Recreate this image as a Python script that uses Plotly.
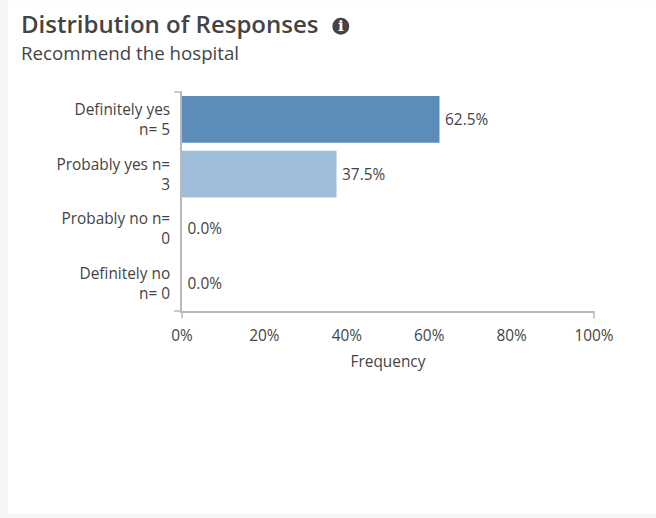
import plotly.graph_objects as go

categories = ["Definitely yes<br>n= 5", "Probably yes n=<br>3", "Probably no n=<br>0", "Definitely no<br>n= 0"]
frequency = [62.5, 37.5, 0.0, 0.0]
bar_labels = ["62.5%", "37.5%", "0.0%", "0.0%"]
bar_colors = ["#5b8db8", "#9dbdd9", "#c6d9ea", "#e0e9f2"]
x_ticks = [0, 20, 40, 60, 80, 100]
x_tick_labels = ["0%", "20%", "40%", "60%", "80%", "100%"]

W, H = 656, 518
L, R, T, B = 181.5, 594, 92, 311.5
TEXT = "#444444"
AX = "#b9b9b9"
FONT = "Open Sans"
FS = 15.4
px = lambda p: (p - L) / (R - L)
py = lambda p: (B - p) / (B - T)

fig = go.Figure(go.Bar(
    y=categories, x=frequency, orientation="h", width=47 / 54.875,
    marker=dict(color=bar_colors, line_width=0),
    text=bar_labels, texttemplate="\u2009%{text}", textposition="outside", cliponaxis=False,
    textfont=dict(family=FONT, size=FS, color=TEXT),
    hoverinfo="x+y",
))

shapes = [
    dict(type="rect", layer="below", xref="paper", yref="paper", x0=px(7), x1=px(656), y0=py(0), y1=py(515),
         fillcolor="white", line_width=0),
]
line = dict(color=AX, width=1.5)
for frac in (0, 1):
    shapes.append(dict(type="line", xref="paper", yref="paper", x0=frac, x1=frac, y0=0, y1=py(319), line=line))
    shapes.append(dict(type="line", xref="paper", yref="paper", x0=px(173.5), x1=0, y0=frac, y1=frac, line=line))
shapes.append(dict(type="circle", xref="paper", yref="paper", x0=px(332), x1=px(349), y0=py(34.5), y1=py(17.5),
                   fillcolor="#444444", line_width=0))

annotations = [
    dict(text="Distribution of Responses", xref="paper", yref="paper", x=px(18), y=py(23.5), xanchor="left", yanchor="middle",
         showarrow=False, font=dict(family=FONT, size=24, color=TEXT, weight=600)),
    dict(text="Recommend the hospital", xref="paper", yref="paper", x=px(18), y=py(52), xanchor="left", yanchor="middle",
         showarrow=False, font=dict(family=FONT, size=18.7, color=TEXT)),
    dict(text="<b>i</b>", xref="paper", yref="paper", x=px(340.5), y=py(26), xanchor="center", yanchor="middle",
         showarrow=False, font=dict(family="DejaVu Serif", size=15, color="white")),
]

fig.update_layout(
    width=W, height=H, autosize=False,
    margin=dict(l=L, r=W - R, t=T, b=H - B, pad=0),
    paper_bgcolor="#f5f5f5", plot_bgcolor="rgba(0,0,0,0)",
    font=dict(family=FONT, size=FS, color=TEXT),
    showlegend=False,
    shapes=shapes, annotations=annotations,
    xaxis=dict(range=[0, 100], tickmode="array", tickvals=x_ticks, ticktext=x_tick_labels,
               showgrid=False, zeroline=False, showline=True, linecolor=AX, linewidth=1.5,
               ticks="outside", ticklen=10, tickcolor="rgba(0,0,0,0)",
               tickfont=dict(family=FONT, size=FS, color=TEXT),
               title=dict(text="Frequency", standoff=11, font=dict(family=FONT, size=FS, color=TEXT))),
    yaxis=dict(autorange="reversed", showgrid=False, zeroline=False, showline=True, linecolor=AX, linewidth=1.5,
               ticks="outside", ticklen=7, tickcolor="rgba(0,0,0,0)",
               tickfont=dict(family=FONT, size=FS, color=TEXT)),
)
fig.write_html("out.html", config=dict(displayModeBar=False),
               post_script="document.body.style.margin='0';document.documentElement.style.overflow='hidden';")
